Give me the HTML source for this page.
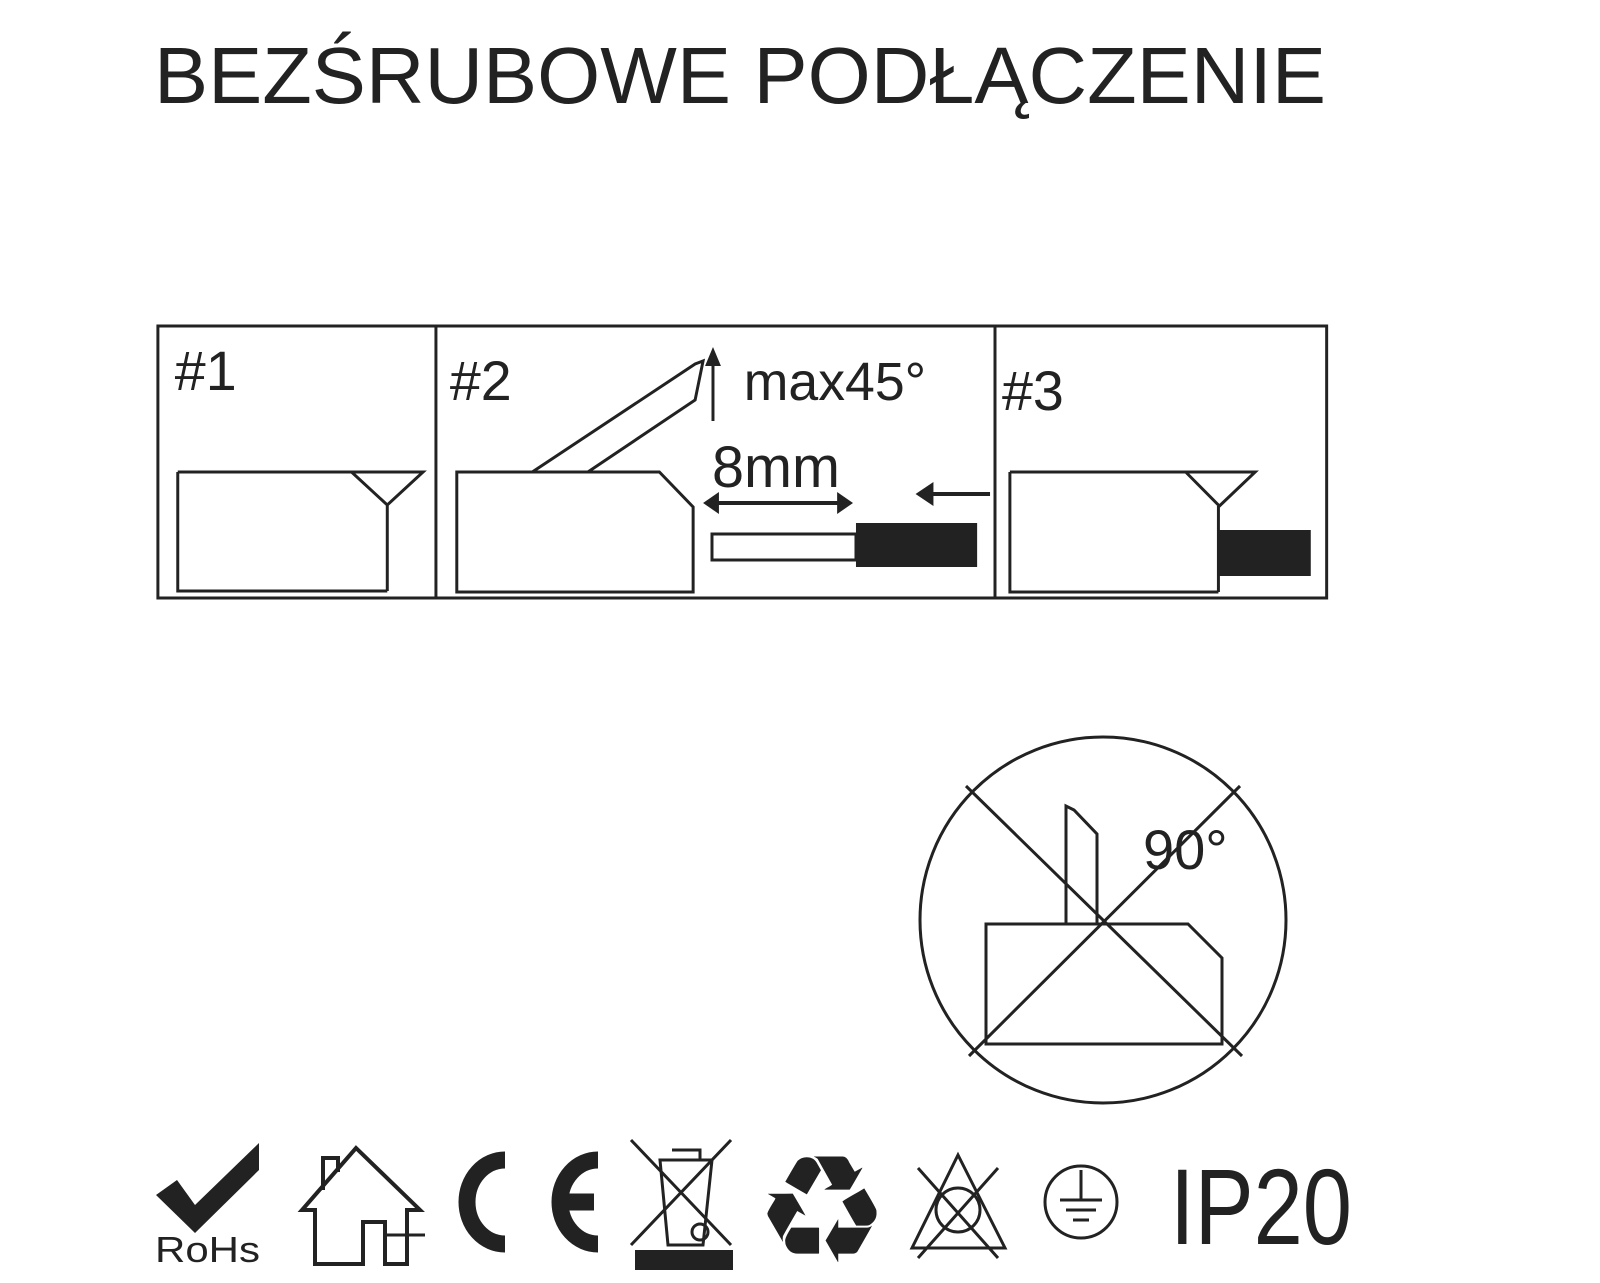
<html><head><style>body{margin:0;background:#fff}svg{display:block}text{font-family:"Liberation Sans",sans-serif;fill:#222}</style></head><body>
<svg width="1600" height="1283" viewBox="0 0 1600 1283" xmlns="http://www.w3.org/2000/svg">
<text x="154" y="103" font-size="80" textLength="1172" lengthAdjust="spacingAndGlyphs">BEZŚRUBOWE PODŁĄCZENIE</text>
<g transform="translate(2,0) scale(0.993,1)">
<g fill="none" stroke="#222" stroke-width="3">
<rect x="157" y="326" width="1177" height="272"/>
<line x1="437" y1="326" x2="437" y2="598"/><line x1="1000" y1="326" x2="1000" y2="598"/>
<path d="M388 591V505M177 472H424L388 505L352 472M177 472V591H388"/>
<path d="M458 472H662L696 507V592H458Z"/>
<path d="M534 472L698 364L706 361L698 400L590 472"/>
<line x1="716" y1="421" x2="716" y2="362"/>
<line x1="718" y1="503" x2="845" y2="503" stroke-width="4"/>
<line x1="935" y1="494" x2="995" y2="494" stroke-width="4"/>
<rect x="715" y="534" width="145" height="26"/>
<path d="M1225 592V506M1015 472H1262L1226 506L1192 472M1015 472V592H1225"/>
</g>
<polygon points="716,347 708,366 724,366" fill="#222"/>
<polygon points="706,503 722,492 722,514" fill="#222"/>
<polygon points="857,503 841,492 841,514" fill="#222"/>
<polygon points="920,494 938,482 938,506" fill="#222"/>
<rect x="860" y="523" width="122" height="44" fill="#222"/>
<rect x="1225" y="530" width="93" height="46" fill="#222"/>
<text x="174" y="390" font-size="56">#1</text>
<text x="451" y="400" font-size="56">#2</text>
<text x="747" y="400" font-size="54">max45°</text>
<text x="715" y="487" font-size="58">8mm</text>
<text x="1007" y="410" font-size="56">#3</text>
</g>
<g fill="none" stroke="#222" stroke-width="3">
<circle cx="1103" cy="920" r="183"/>
<path d="M986 924H1188L1222 958V1044H986Z"/>
<path d="M1066 924V806L1074 810L1097 834V924"/>
<line x1="966" y1="786" x2="1242" y2="1056"/><line x1="1240" y1="786" x2="969" y2="1056"/>
</g>
<text x="1143" y="869" font-size="56">90°</text>
<!-- icons -->
<path d="M156 1195L177 1180L195 1205L259 1143V1170L195 1233Z" fill="#222"/>
<text x="155" y="1262" font-size="36" textLength="105" lengthAdjust="spacingAndGlyphs">RoHs</text>
<g fill="none" stroke="#222" stroke-width="4">
<path d="M315 1264V1210H302L356 1148L420 1210H407V1264H385V1222H363V1264H315ZM323 1190V1158H338V1172"/>
<line x1="385" y1="1235" x2="425" y2="1235" stroke-width="3"/>
<path d="M631 1140L731 1245M731 1140L631 1245" stroke-width="3"/>
<path d="M660 1160H712L703 1245H668ZM672 1150H700V1160" stroke-width="3"/>
<circle cx="700" cy="1232" r="8" stroke-width="3"/>
<path d="M958 1155L1005 1248H912Z" stroke-width="3"/>
<circle cx="958" cy="1210" r="22" stroke-width="3"/>
<path d="M918 1168L998 1258M998 1168L918 1258" stroke-width="3"/>
<circle cx="1081" cy="1202" r="36" stroke-width="3"/>
<path d="M1081 1170V1200M1060 1200H1102M1066 1210H1096M1073 1220H1089" stroke-width="3"/>
<path d="M505 1160A38 42 0 1 0 505 1244" stroke-width="17"/>
<path d="M598 1160A38 42 0 1 0 598 1244M555 1202H594" stroke-width="17"/>
</g>
<rect x="635" y="1250" width="98" height="20" fill="#222"/>
<text x="822" y="1262" font-size="150" text-anchor="middle">♻</text>
<text x="1170" y="1244" font-size="108" textLength="182" lengthAdjust="spacingAndGlyphs">IP20</text>
</svg>
</body></html>
